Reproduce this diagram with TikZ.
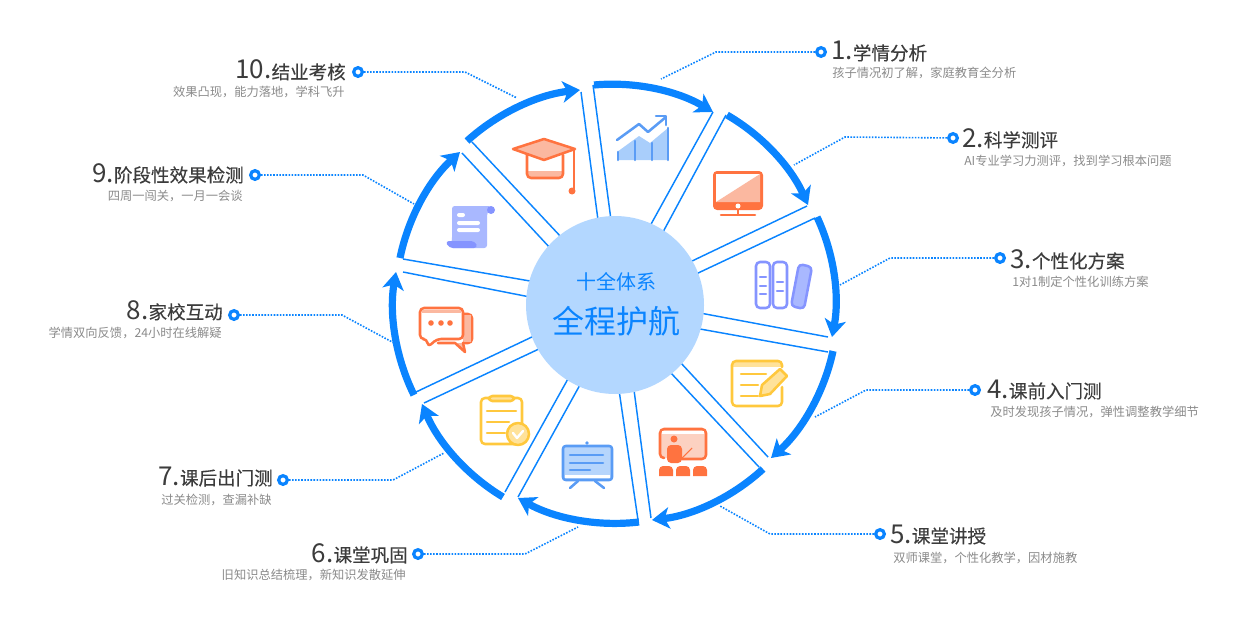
\documentclass[tikz,border=0pt]{standalone}
\usepackage{fontspec}
\setmainfont{Noto Sans CJK SC}
\newfontfamily\titlefont[FakeBold=0.25]{Noto Sans CJK SC}
\usetikzlibrary{arrows.meta}
\definecolor{flowblue}{HTML}{0A84FF}
\definecolor{hubblue}{HTML}{B3D7FF}
\definecolor{iconorange}{HTML}{FF7340}
\definecolor{lightorange}{HTML}{FBB8A0}
\definecolor{iconyellow}{HTML}{FFC83D}
\definecolor{lightyellow}{HTML}{FFE29A}
\definecolor{iconviolet}{HTML}{8594FF}
\definecolor{lightviolet}{HTML}{A9B8FF}
\definecolor{iconblue}{HTML}{5A9CF5}
\definecolor{lightblue}{HTML}{A9CEFB}
\definecolor{titlegray}{HTML}{3C3C3C}
\definecolor{subgray}{HTML}{8A8A8A}
\tikzset{
	sectorline/.style={draw=flowblue, line width=1.1pt},
	flowarc/.style={draw=flowblue, line width=5.4pt, -{Stealth[length=13pt,width=16pt,inset=3.5pt]}, bend left=18, looseness=0.87},
	leader/.style={draw=flowblue, line width=1.2pt, dash pattern=on 1.2pt off 1.1pt},
	ring/.style={circle, draw=flowblue, fill=white, line width=2.4pt, inner sep=0pt, minimum size=6.5pt},
	titletext/.style={text=titlegray, font=\titlefont\fontsize{13.9}{16}\selectfont, inner sep=0pt},
	subtext/.style={text=subgray, font=\fontsize{9.2}{11}\selectfont, inner sep=0pt},
	orangeline/.style={draw=iconorange, line width=1.9pt, line join=round, line cap=round},
	yellowline/.style={draw=iconyellow, line width=1.9pt, line join=round, line cap=round},
	violetline/.style={draw=iconviolet, line width=1.9pt, line join=round, line cap=round},
	blueline/.style={draw=iconblue, line width=1.9pt, line join=round, line cap=round},
}
\def\bignum#1{{\rmfamily\fontsize{19.5}{20}\selectfont #1}}
\def\fullcomma{\symbol{"FF0C}}

\begin{document}
\begin{tikzpicture}[x=0.75pt, y=-0.75pt]
	\useasboundingbox (0, 0) rectangle (1251, 617);

	% wedges
	\draw[sectorline] (593, 85) -- (611, 220);
	\draw[sectorline] (713, 112) -- (650, 226);
	\draw[sectorline] (726, 115) -- (663, 232);
	\draw[sectorline] (807, 206) -- (690, 262);
	\draw[sectorline] (815, 218) -- (696, 274);
	\draw[sectorline] (828, 337) -- (700, 313);
	\draw[sectorline] (828, 352) -- (700, 329);
	\draw[sectorline] (768, 457) -- (680, 362);
	\draw[sectorline] (759, 467) -- (670, 372);
	\draw[sectorline] (651, 518) -- (634, 390);
	\draw[sectorline] (638, 520) -- (619, 390);
	\draw[sectorline] (518, 497) -- (581, 383);
	\draw[sectorline] (505, 492) -- (569, 377);
	\draw[sectorline] (424, 403) -- (541, 348);
	\draw[sectorline] (416, 392) -- (534, 336);
	\draw[sectorline] (403, 272) -- (530, 297);
	\draw[sectorline] (403, 259) -- (530, 281);
	\draw[sectorline] (462, 153) -- (551, 249);
	\draw[sectorline] (472, 142) -- (562, 238);
	\draw[sectorline] (581, 92) -- (598, 220);

	% arrows round the ring
	\draw[flowarc] (594, 85) to (713, 112);
	\draw[flowarc] (727, 115) to (808, 205);
	\draw[flowarc] (817, 217) to (832, 337);
	\draw[flowarc] (833, 351) to (771, 458);
	\draw[flowarc] (763, 469) to (652, 520);
	\draw[flowarc] (639, 522) to (518, 498);
	\draw[flowarc] (503, 497) to (422, 404);
	\draw[flowarc] (414, 395) to (396, 272);
	\draw[flowarc] (400, 258) to (460, 152);
	\draw[flowarc] (467, 141) to (580, 90);

	% centre
	\node[circle, fill=hubblue, minimum size=133.5pt, inner sep=0pt] (hub) at (615, 305) {};
	\node[text=flowblue, font=\fontsize{15}{18}\selectfont, inner sep=0pt] (hubtop) at (616, 282) {十全体系};
	\node[text=flowblue, font=\fontsize{24}{28}\selectfont, inner sep=0pt] (hubmain) at (616, 321) {全程护航};

	% chart
	\fill[lightblue] (617, 152) -- (639, 136) -- (650, 143) -- (668, 128) -- (668, 160) -- (617, 160) -- cycle;
	\draw[blueline] (618, 152) -- (618, 160) (635, 141) -- (635, 160) (652, 143) -- (652, 160) (668, 128) -- (668, 160);
	\draw[blueline] (617, 140) -- (639, 124) -- (648, 132) -- (666, 117);
	\draw[blueline] (656, 116) -- (666, 116) -- (666, 125);

	% monitor
	\fill[iconorange, rounded corners=3pt] (713, 171) rectangle (763, 210);
	\fill[white] (716, 174) rectangle (760, 202);
	\fill[lightorange] (716, 202) -- (760, 174) -- (760, 202) -- cycle;
	\fill[white] (738, 206) circle (2.5);
	\draw[orangeline] (738, 210) -- (738, 214);
	\draw[orangeline] (721, 215) -- (755, 215);

	% books
	\draw[violetline, rounded corners=3pt] (756, 262) rectangle (770, 308);
	\draw[violetline, rounded corners=3pt] (773, 262) rectangle (787, 308);
	\draw[violetline, fill=lightviolet, rounded corners=3pt] (799, 264) -- (812, 267) -- (804, 309) -- (791, 306) -- cycle;
	\draw[violetline] (760, 277) -- (766, 277) (760, 286) -- (766, 286) (760, 294) -- (766, 294);
	\draw[violetline] (777, 282) -- (783, 282) (777, 291) -- (783, 291);

	% note with pencil
	\fill[lightyellow] (733, 362) rectangle (781, 367);
	\draw[yellowline, rounded corners=3pt] (782, 387) -- (782, 406) -- (732, 406) -- (732, 361) -- (782, 361) -- (782, 367);
	\draw[yellowline] (741, 374) -- (766, 374) (741, 385) -- (758, 385) (741, 396) -- (758, 396);
	\draw[yellowline, fill=lightyellow] (760, 396) -- (762, 385) -- (780, 369) -- (787, 376) -- (770, 394) -- cycle;

	% teacher at the board
	\draw[orangeline, fill=lightorange!65, rounded corners=3pt] (664, 458) -- (660, 458) -- (660, 429) -- (706, 429) -- (706, 459) -- (682, 459);
	\fill[white] (662, 431) rectangle (704, 434);
	\fill[iconorange] (674, 439) circle (3.5);
	\fill[iconorange, rounded corners=3pt] (667, 445) rectangle (682, 463);
	\draw[draw=iconorange, line width=0.8pt] (682, 458) -- (692, 448);
	\fill[iconorange] (659, 476) [rounded corners=3pt] -- (659, 466) -- (673, 466) [sharp corners] -- (673, 476) -- cycle;
	\fill[iconorange] (676, 476) [rounded corners=3pt] -- (676, 466) -- (690, 466) [sharp corners] -- (690, 476) -- cycle;
	\fill[iconorange] (693, 476) [rounded corners=3pt] -- (693, 466) -- (707, 466) [sharp corners] -- (707, 476) -- cycle;

	% presentation board
	\draw[blueline, fill=lightblue!85, rounded corners=2pt] (563, 446) rectangle (612, 480);
	\fill[white] (565, 475) rectangle (610, 478);
	\fill[iconblue] (587, 443) circle (1.8);
	\draw[blueline] (570, 455) -- (603, 455) (570, 463) -- (603, 463) (570, 470) -- (590, 470);
	\draw[blueline] (578, 481) -- (570, 488) (595, 481) -- (604, 488);

	% clipboard
	\draw[yellowline, rounded corners=3pt] (494, 398) -- (481, 398) -- (481, 444) -- (522, 444) -- (522, 398) -- (510, 398);
	\draw[yellowline, fill=lightyellow, rounded corners=2.5pt] (489, 396) rectangle (514, 401);
	\draw[yellowline] (487, 411) -- (516, 411) (487, 422) -- (509, 422) (487, 433) -- (505, 433);
	\draw[yellowline, fill=lightyellow] (518, 434) circle (11);
	\draw[line width=1.8pt, draw=white, line cap=round, line join=round] (513, 433) -- (517, 438) -- (523, 431);

	% chat bubbles
	\draw[orangeline, fill=lightorange, rounded corners=3pt] (464, 314) -- (472, 314) -- (472, 343) -- (463, 343);
	\draw[orangeline, fill=lightorange] (463, 343) -- (465, 352) -- (455, 343) -- (438, 343);
	\fill[lightorange] (464, 315) rectangle (471, 342);
	\draw[orangeline, fill=white, rounded corners=3pt] (420, 308) -- (463, 308) -- (463, 339) -- (437, 339) -- (428, 347) -- (427, 339) -- (420, 339) -- cycle;
	\fill[lightorange] (422, 310) rectangle (461, 313);
	\fill[iconorange] (431, 323) circle (2.8);
	\fill[iconorange] (441, 323) circle (2.8);
	\fill[iconorange] (450, 323) circle (2.8);

	% scroll
	\fill[lightviolet, rounded corners=2pt] (452, 206) -- (491, 206) -- (487, 214) -- (487, 248) -- (450, 248) -- (452, 240) -- cycle;
	\fill[iconviolet] (491, 210) circle (4);
	\fill[iconviolet, rounded corners=3pt] (445, 241) -- (475, 241) -- (478, 248) -- (449, 248) -- cycle;
	\fill[white, rounded corners=1.5pt] (457, 213) rectangle (465, 217);
	\fill[white, rounded corners=1.5pt] (457, 221) rectangle (480, 225);
	\fill[white, rounded corners=1.5pt] (457, 228) rectangle (480, 232);

	% cap
	\fill[lightorange] (528, 171) rectangle (562, 177);
	\draw[orangeline, rounded corners=3pt] (527, 155) -- (527, 178) -- (563, 178) -- (563, 155);
	\draw[orangeline, fill=lightorange] (513, 149) -- (544, 139) -- (575, 149) -- (544, 160) -- cycle;
	\draw[orangeline] (574, 149) -- (574, 190);
	\fill[iconorange] (572, 191) circle (3.5);

	% labels
	\node[ring] (r1) at (821, 52) {};
	\coordinate (b1) at (716, 52);
	\coordinate (e1) at (661, 79);
	\draw[leader] (r1) -- (b1) -- (e1);
	\node[titletext, anchor=base west] (t1) at (831, 60) {\bignum{1.}学情分析};
	\node[subtext, anchor=west] (s1) at (832, 73) {孩子情况初了解\fullcomma 家庭教育全分析};

	\node[ring] (r2) at (953, 138) {};
	\coordinate (b2) at (845, 137);
	\coordinate (e2) at (794, 165);
	\draw[leader] (r2) -- (b2) -- (e2);
	\node[titletext, anchor=base west] (t2) at (962, 147) {\bignum{2.}科学测评};
	\node[subtext, anchor=west] (s2) at (964, 161) {AI专业学习力测评\fullcomma 找到学习根本问题};

	\node[ring] (r3) at (1000, 258) {};
	\coordinate (b3) at (890, 258);
	\coordinate (e3) at (840, 285);
	\draw[leader] (r3) -- (b3) -- (e3);
	\node[titletext, anchor=base west] (t3) at (1010, 268) {\bignum{3.}个性化方案};
	\node[subtext, anchor=west] (s3) at (1012, 282) {1对1制定个性化训练方案};

	\node[ring] (r4) at (975, 390) {};
	\coordinate (b4) at (866, 390);
	\coordinate (e4) at (815, 417);
	\draw[leader] (r4) -- (b4) -- (e4);
	\node[titletext, anchor=base west] (t4) at (987, 398) {\bignum{4.}课前入门测};
	\node[subtext, anchor=west] (s4) at (990, 412) {及时发现孩子情况\fullcomma 弹性调整教学细节};

	\node[ring] (r5) at (880, 534) {};
	\coordinate (b5) at (770, 534);
	\coordinate (e5) at (720, 506);
	\draw[leader] (r5) -- (b5) -- (e5);
	\node[titletext, anchor=base west] (t5) at (890, 543) {\bignum{5.}课堂讲授};
	\node[subtext, anchor=west] (s5) at (893, 558) {双师课堂\fullcomma 个性化教学\fullcomma 因材施教};

	\node[ring] (r6) at (418, 554) {};
	\coordinate (b6) at (525, 554);
	\coordinate (e6) at (578, 527);
	\draw[leader] (r6) -- (b6) -- (e6);
	\node[titletext, anchor=base east] (t6) at (408, 562) {\bignum{6.}课堂巩固};
	\node[subtext, anchor=east] (s6) at (406, 575) {旧知识总结梳理\fullcomma 新知识发散延伸};

	\node[ring] (r7) at (283, 480) {};
	\coordinate (b7) at (393, 480);
	\coordinate (e7) at (444, 453);
	\draw[leader] (r7) -- (b7) -- (e7);
	\node[titletext, anchor=base east] (t7) at (273, 485) {\bignum{7.}课后出门测};
	\node[subtext, anchor=east] (s7) at (272, 500) {过关检测\fullcomma 查漏补缺};

	\node[ring] (r8) at (234, 315) {};
	\coordinate (b8) at (342, 315);
	\coordinate (e8) at (394, 343);
	\draw[leader] (r8) -- (b8) -- (e8);
	\node[titletext, anchor=base east] (t8) at (223, 319) {\bignum{8.}家校互动};
	\node[subtext, anchor=east] (s8) at (222, 333) {学情双向反馈\fullcomma 24小时在线解疑};

	\node[ring] (r9) at (255, 175) {};
	\coordinate (b9) at (363, 175);
	\coordinate (e9) at (414, 204);
	\draw[leader] (r9) -- (b9) -- (e9);
	\node[titletext, anchor=base east] (t9) at (244, 182) {\bignum{9.}阶段性效果检测};
	\node[subtext, anchor=east] (s9) at (243, 196) {四周一闯关\fullcomma 一月一会谈};

	\node[ring] (r10) at (358, 72) {};
	\coordinate (b10) at (465, 72);
	\coordinate (e10) at (517, 98);
	\draw[leader] (r10) -- (b10) -- (e10);
	\node[titletext, anchor=base east] (t10) at (346, 79) {\bignum{10.}结业考核};
	\node[subtext, anchor=east] (s10) at (345, 92) {效果凸现\fullcomma 能力落地\fullcomma 学科飞升};
\end{tikzpicture}
\end{document}
